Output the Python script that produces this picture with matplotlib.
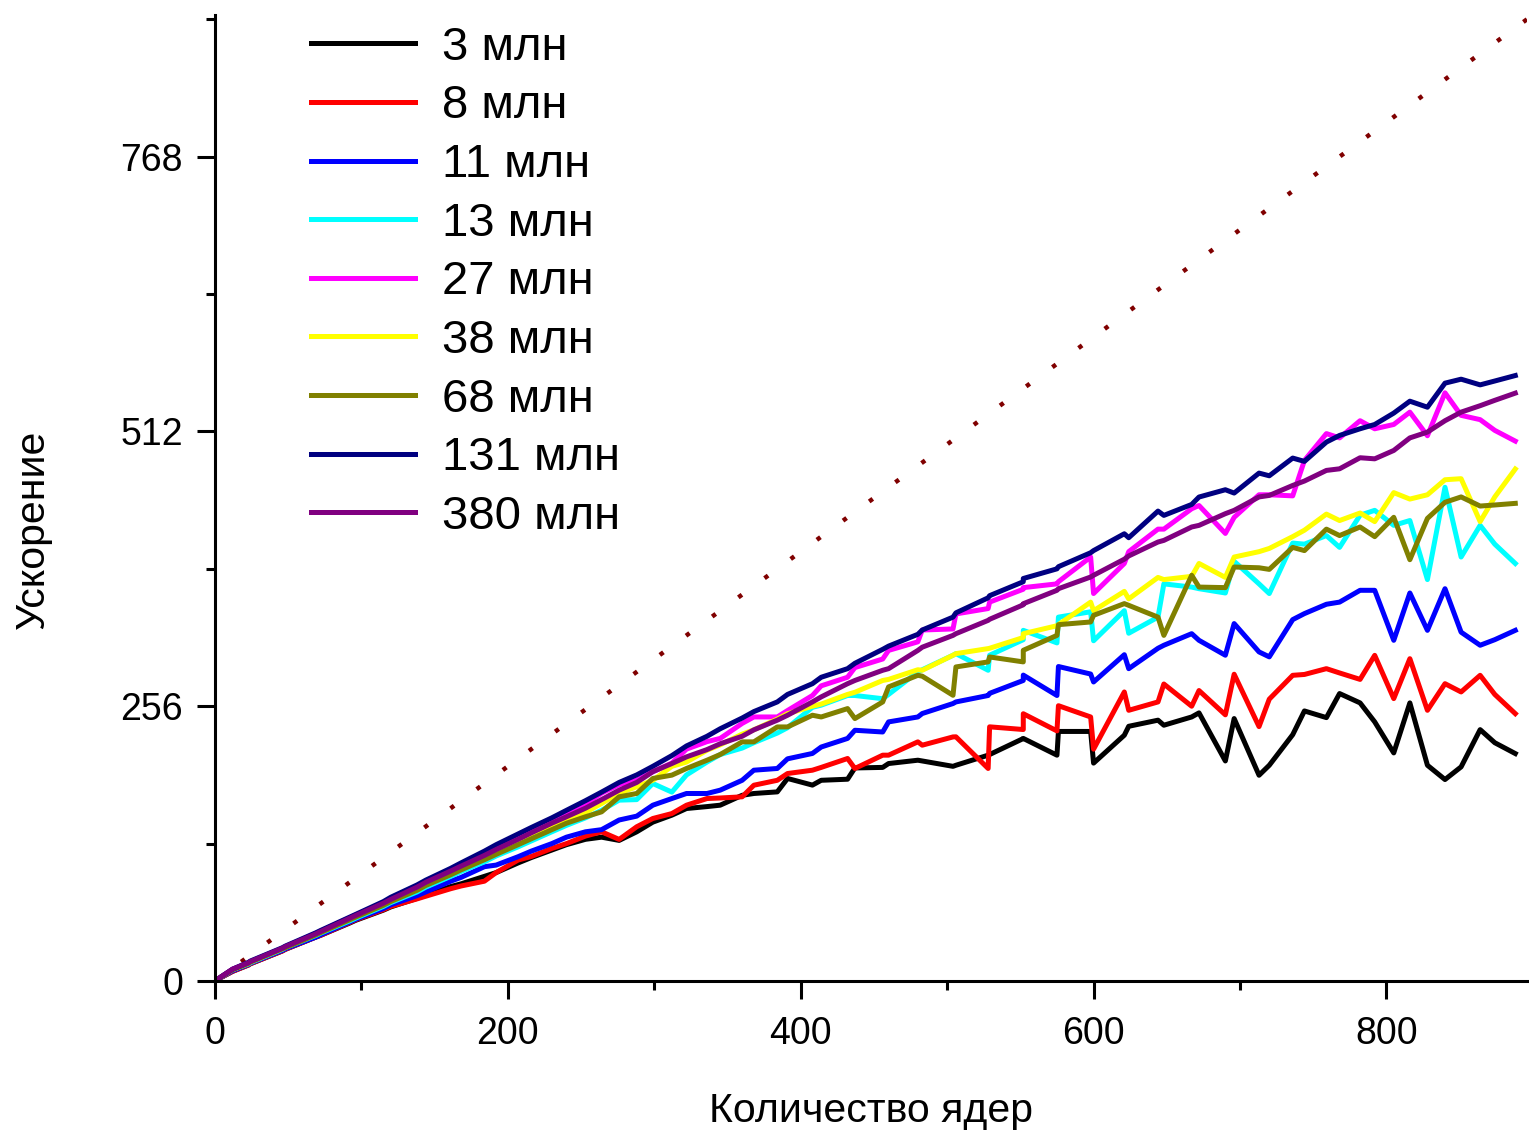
import matplotlib
matplotlib.use('Agg')
import matplotlib.pyplot as plt
from matplotlib.ticker import MultipleLocator, FixedLocator

plt.rcParams['font.family'] = ['Liberation Sans', 'DejaVu Sans']

# Number of cores (union of 23-core and 24-core-per-node runs)
cores = [1, 12,
         23, 24, 46, 48, 69, 72, 92, 96, 115, 120,
         138, 144, 161, 168, 184, 192, 207, 216, 230, 240,
         253, 264, 276, 288, 299, 312, 322, 336, 345, 360,
         368, 384, 391, 408, 414, 432, 437, 456, 460, 480,
         483, 504, 506, 528, 529, 552, 552, 575, 576, 598,
         600, 621, 624, 644, 648, 667, 672, 690, 696, 713,
         720, 736, 744, 759, 768, 782, 792, 805, 816, 828,
         840, 851, 864, 874, 888]

s_3 = [1, 9,
       15, 16, 28, 29.5, 41, 42.5, 54, 56.5, 66, 69,
       77, 80, 88, 90.5, 97.5, 101, 110, 115, 122, 127,
       132, 134, 131, 139, 148, 154.5, 160.7, 162.5, 163.8, 173,
       174.7, 176.2, 188.7, 182.5, 187, 188, 198.5, 199, 202.6, 205.7,
       205, 200, 201, 210.4, 211, 225.9, 226, 210.4, 232.5, 232.5,
       203, 229, 237.3, 243, 238.3, 246, 249.8, 205, 244.5, 191.7,
       201, 229.5, 251.6, 245.4, 267.8, 259.1, 241.4, 212.5, 259.1, 201,
       187.7, 199.5, 234.2, 222, 211.9]

s_8 = [1, 9,
       15, 16, 28, 29.5, 41, 42.5, 54.5, 57, 66.5, 69.5,
       76.5, 79, 86, 88.5, 93, 101, 112.7, 116, 123.5, 128,
       135, 139, 131.9, 143.7, 151.4, 156, 163.8, 170, 170.5, 171.6,
       182.4, 187, 193.3, 196.4, 199, 207.3, 198, 210.4, 210.4, 222.8,
       219.7, 227.4, 227.5, 198, 236.8, 234.3, 249, 233, 256.5, 246,
       216, 269.3, 252.2, 260, 276.7, 256, 270.6, 248, 285.8, 237,
       262.6, 284.8, 285.6, 291, 287, 281, 303.4, 263.1, 300.3, 252.2,
       277, 269.3, 284.8, 267, 249.1]

s_11 = [1, 9.5,
        15.5, 16.5, 28.5, 30, 41, 43, 55, 57.5, 67.5, 71,
        79.5, 83, 93, 96.5, 106.5, 108, 115.8, 121, 128, 134,
        139, 141, 150, 153.6, 163.8, 170, 174.7, 174.7, 177.8, 187,
        196.4, 198, 207, 212, 218, 226, 233.6, 232, 241.4, 246,
        249.2, 258.5, 260, 266, 268, 280, 285, 266, 293, 286,
        278.6, 304, 291, 310, 312.8, 323.6, 317.4, 303.5, 333, 306.6,
        302, 336.7, 342.3, 351, 353, 364, 364, 317.4, 361.5, 326.7,
        365.5, 325, 312.8, 318, 326.7]

s_13 = [1, 10.5,
        16, 17, 29.5, 31, 42.5, 44.5, 56, 58.5, 69.5, 73,
        83, 87.5, 97.5, 102, 111, 116.5, 125, 130.5, 139, 145,
        152, 159, 168.5, 169, 184, 176, 192, 204, 211, 217,
        222, 231, 236, 255, 257, 266, 266, 263, 267, 288,
        290, 303.5, 305, 289.5, 303.5, 318, 326.7, 315, 339, 344,
        317, 345, 324, 339, 370, 367, 365.5, 361.5, 391, 370,
        361, 408, 407, 415, 404, 434, 438.5, 424.5, 429, 374,
        460, 395, 424.5, 407, 389]

s_27 = [1, 11,
        17, 18, 30.5, 32, 44.5, 46.5, 59, 61.5, 73, 77,
        88.5, 93, 104, 109, 120, 125, 135, 141, 150, 156,
        165, 175, 183, 187, 195, 203, 216, 223, 226, 240,
        246, 246, 252, 266, 275, 283, 292, 300, 308, 316,
        327, 328, 342, 347, 353, 365, 366.5, 370, 372, 395,
        361, 389, 400, 421, 421, 440, 443, 417, 432, 453,
        453, 452, 485, 510, 506, 522, 514.5, 518.5, 530, 508,
        548, 527, 523, 513, 503]

s_38 = [1, 10.5,
        16.5, 17.5, 30, 31.5, 43.5, 45.5, 57.5, 60, 71, 74.5,
        85, 89.5, 100, 104, 114, 119, 128.5, 134, 143, 149,
        157, 165.4, 175, 181, 187, 200, 204, 215, 220, 230,
        234, 244, 249, 256, 258, 267, 269, 280, 281, 290,
        289.5, 303.5, 305, 309.7, 310, 320, 323.6, 331, 332, 353,
        345, 363, 356, 376, 374, 377, 389, 376, 395, 400,
        403, 414, 420, 435, 429, 436, 428, 455, 449, 453,
        467, 468, 428, 451, 477]

s_68 = [1, 10.5,
        16.5, 17.5, 30, 31, 43, 45, 57, 59.5, 70.5, 74,
        84.5, 89, 99, 103.5, 113, 118, 127, 132.5, 141, 147,
        153, 157.6, 171.6, 174.7, 188.7, 191.8, 198, 205.7, 211, 222.8,
        222.8, 236.7, 236.7, 247.6, 246, 253.8, 244.5, 260, 274, 284.8,
        284, 266.2, 292.6, 297.3, 301.9, 297.3, 308.1, 322, 332, 334.5,
        340.7, 351.6, 350, 339, 322, 378, 367, 366.5, 385.7, 385,
        383.5, 404, 401, 421, 415, 423, 414, 432, 392.5, 431,
        446, 451, 442.5, 443.5, 445]

s_131 = [1, 11,
         17.5, 18.5, 31, 32.5, 45, 47, 59.5, 62, 74, 78,
         89.5, 94, 105, 110, 121, 127, 137, 143, 152, 159,
         168, 176, 185, 192, 200, 210, 219, 228, 235, 245,
         251, 260, 267, 277, 283, 291, 296, 309, 312, 323,
         327, 339, 343, 357, 359, 372, 375, 384, 386, 399,
         401, 416.7, 413, 437.8, 433.8, 444, 450.9, 457.7, 454.6, 473.2,
         470.7, 487.2, 484.1, 502.1, 508.3, 514.5, 518.5, 529.1, 540.2, 534.6,
         557, 560.7, 555.4, 559, 564.1]

s_380 = [1, 11,
         17, 18, 30.5, 32, 44, 46, 58.5, 61, 72.5, 76,
         87.5, 92, 102.5, 107, 117, 122.5, 132, 138, 147, 153,
         161, 169, 177.8, 185, 195, 202.6, 208.8, 215.6, 221, 228,
         234, 243, 247.6, 260, 264.7, 277, 280, 289.5, 291, 308,
         311, 322, 323.6, 336, 337, 350.5, 351.5, 364, 365.5, 376.4,
         378, 393, 396, 409, 410.5, 423, 424.5, 435.4, 438.5, 451,
         452.4, 461.7, 465.8, 475.7, 477.2, 487.5, 486.5, 494.3, 506, 511.4,
         522, 530, 536, 541, 547.7]

series = [s_3, s_8, s_11, s_13, s_27, s_38, s_68, s_131, s_380]
labels = ['3 млн', '8 млн', '11 млн', '13 млн', '27 млн', '38 млн',
          '68 млн', '131 млн', '380 млн']
colors = ['#000000', '#FF0000', '#0000FF', '#00FFFF', '#FF00FF',
          '#FFFF00', '#808000', '#000080', '#800080']

ideal_x = [0, 896]
ideal_y = [0, 896]

x_major = [0, 200, 400, 600, 800]
y_major = [0, 256, 512, 768]
y_minor = [128, 384, 640, 896]

fig = plt.figure(figsize=(15.29, 11.30), dpi=100)
ax = fig.add_axes([215 / 1529, 1 - 981 / 1130, 1312 / 1529, 966 / 1130])

ax.plot(ideal_x, ideal_y, color='#800000', lw=3.2, dashes=(1.0, 6.3),
        dash_capstyle='butt', zorder=1)
for vals, lab, col in zip(series, labels, colors):
    ax.plot(cores, vals, color=col, lw=3.6, label=lab, zorder=2)

ax.set_xlim(0, 896)
ax.set_ylim(0, 900)
ax.set_xticks(x_major)
ax.xaxis.set_minor_locator(MultipleLocator(100))
ax.set_yticks(y_major)
ax.yaxis.set_minor_locator(FixedLocator(y_minor))

for s in ['top', 'right']:
    ax.spines[s].set_visible(False)
for s in ['left', 'bottom']:
    ax.spines[s].set_linewidth(2.2)

ax.tick_params(axis='x', which='major', length=13, width=2.2, labelsize=27, pad=12)
ax.tick_params(axis='y', which='major', length=13, width=2.2, labelsize=27, pad=10)
ax.tick_params(which='minor', length=6.5, width=2.2)

ax.set_xlabel('Количество ядер', fontsize=29.5, labelpad=29)
ax.set_ylabel('Ускорение', fontsize=29.5)
ax.yaxis.set_label_coords(-0.124, 0.468)

ax.legend(loc='upper left', bbox_to_anchor=(0.0732, 0.9888), frameon=False,
          fontsize=34, handlelength=2.2, handletextpad=0.58,
          labelspacing=0.31, borderpad=0, borderaxespad=0)

fig.savefig('out.png', dpi=100)
